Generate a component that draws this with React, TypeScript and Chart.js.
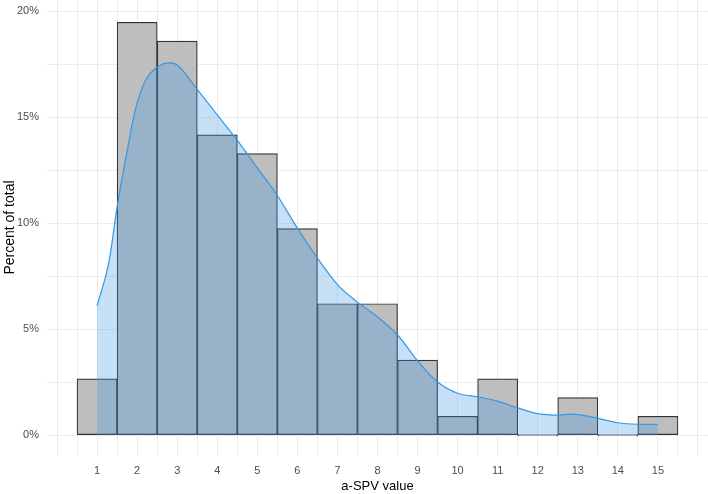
import React, { useEffect, useRef } from "react";
import { Chart, registerables } from "chart.js";

Chart.register(...registerables);

// Histogram bins (a-SPV value) and counts
const binCenters = [1, 2, 3, 4, 5, 6, 7, 8, 9, 10, 11, 12, 13, 14, 15];
const binCounts = [3, 22, 21, 16, 15, 11, 7, 7, 4, 1, 3, 0, 2, 0, 1];
const totalCount = 113;

// Density curve (scaled to percent of total)
const densityX = [1.0, 1.3, 1.5, 1.75, 1.95, 2.2, 2.5, 2.82, 3.0, 3.5, 4.0, 4.5, 5.0, 5.5, 6.0, 6.5, 7.0, 7.5, 8.0, 8.5, 9.0, 9.5, 10.0, 10.5, 11.0, 11.5, 12.0, 12.5, 12.85, 13.5, 14.0, 14.5, 15.0];
const densityY = [6.1, 8.2, 10.75, 13.4, 15.3, 16.7, 17.35, 17.55, 17.45, 16.3, 15.1, 13.9, 12.6, 11.3, 9.76, 8.35, 7.1, 6.27, 5.57, 4.72, 3.5, 2.5, 1.97, 1.8, 1.6, 1.28, 1.01, 0.94, 0.99, 0.79, 0.58, 0.51, 0.5];

// Axis breaks / labels
const xLabels = ["1", "2", "3", "4", "5", "6", "7", "8", "9", "10", "11", "12", "13", "14", "15"];
const yBreaks = [0, 2.5, 5, 7.5, 10, 12.5, 15, 17.5, 20];
const yLabels = ["0%", "5%", "10%", "15%", "20%"];

const FONT = "'Liberation Sans', Arial, Helvetica, sans-serif";

export default function App() {
  const ref = useRef<HTMLCanvasElement | null>(null);

  useEffect(() => {
    if (!ref.current) return;
    const barData = binCenters.map((x, i) => ({ x, y: (binCounts[i] / totalCount) * 100 }));
    const lineData = densityX.map((x, i) => ({ x, y: densityY[i] }));
    const xBreaks: number[] = [];
    for (let v = 0; v <= 16; v += 0.5) xBreaks.push(v);

    const chart = new Chart(ref.current, {
      type: "bar",
      data: {
        datasets: [
          {
            type: "line",
            data: lineData,
            borderColor: "rgb(51,153,230)",
            borderWidth: 1.2,
            backgroundColor: "rgba(57,153,229,0.29)",
            fill: "origin",
            pointRadius: 0,
            cubicInterpolationMode: "monotone",
            order: 0,
          } as any,
          {
            type: "bar",
            data: barData,
            backgroundColor: "#bebebe",
            borderColor: "#333333",
            borderWidth: 1.2,
            borderSkipped: false,
            barThickness: "flex",
            barPercentage: 1,
            categoryPercentage: 1,
            minBarLength: 1.2,
            order: 1,
          } as any,
        ],
      },
      options: {
        responsive: false,
        animation: false,
        layout: { padding: 0 },
        plugins: { legend: { display: false }, tooltip: { enabled: false } },
        scales: {
          x: {
            type: "linear",
            min: -0.25,
            max: 16.25,
            offset: false,
            grid: { color: "#ebebeb", lineWidth: 1, drawTicks: false, offset: false },
            border: { display: false },
            afterBuildTicks: (s: any) => {
              s.ticks = xBreaks.map((v) => ({ value: v }));
            },
            afterFit: (s: any) => {
              s.height = 39;
              s.paddingLeft = 0;
              s.paddingRight = 0;
            },
            ticks: {
              autoSkip: false,
              maxRotation: 0,
              padding: 9,
              color: "#4d4d4d",
              font: { family: FONT, size: 11 },
              callback: (v: any) => {
                const idx = binCenters.indexOf(Number(v));
                return idx >= 0 ? xLabels[idx] : "";
              },
            },
            title: {
              display: true,
              text: "a-SPV value",
              color: "#000",
              font: { family: FONT, size: 13 },
              padding: { top: 0, bottom: 0 },
            },
          } as any,
          y: {
            type: "linear",
            min: -0.94,
            max: 20.52,
            grid: { color: "#ebebeb", lineWidth: 1, drawTicks: false },
            border: { display: false },
            afterBuildTicks: (s: any) => {
              s.ticks = yBreaks.map((v) => ({ value: v }));
            },
            afterFit: (s: any) => {
              s.width = 47;
              s.paddingTop = 0;
              s.paddingBottom = 0;
            },
            ticks: {
              autoSkip: false,
              padding: 8,
              color: "#4d4d4d",
              font: { family: FONT, size: 11 },
              callback: (v: any) => {
                const n = Number(v);
                return n % 5 === 0 ? yLabels[n / 5] : "";
              },
            },
            title: {
              display: true,
              text: "Percent of total",
              color: "#000",
              font: { family: FONT, size: 14 },
              padding: { top: 2, bottom: 0 },
            },
          } as any,
        },
      },
    });
    return () => chart.destroy();
  }, []);

  return (
    <div style={{ position: "absolute", left: 0, top: 0, width: 708, height: 494, background: "#fff" }}>
      <canvas ref={ref} width={708} height={494} style={{ width: 708, height: 494, display: "block" }} />
    </div>
  );
}
